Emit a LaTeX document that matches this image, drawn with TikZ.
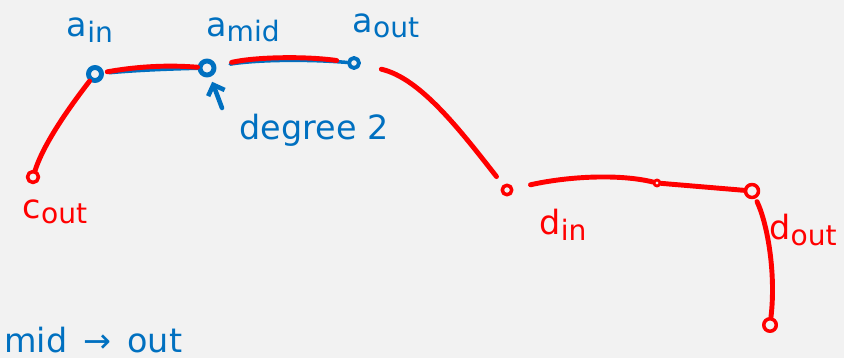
\documentclass[tikz,border=0pt]{standalone}
\usepackage{fontspec}
\setmainfont{DejaVu Sans}
\usetikzlibrary{positioning,arrows.meta}

\definecolor{penblue}{RGB}{0,112,192}
\definecolor{penred}{RGB}{255,0,0}
\definecolor{paper}{RGB}{242,242,242}

% lowered index next to a vertex letter
\newcommand{\idx}[1]{\raisebox{-0.3ex}{\fontsize{16}{16}\selectfont #1}}

\begin{document}
\begin{tikzpicture}[x=0.02cm, y=-0.02cm, line cap=round, line join=round,
    font=\fontsize{19}{21}\selectfont,
    vtx/.style={circle, draw, inner sep=0pt},
    bluevtx/.style={vtx, penblue, line width=2.8pt, minimum size=0.26cm},
    redvtx/.style={vtx, penred, line width=2pt, minimum size=0.22cm},
    redline/.style={penred, line width=2.8pt},
    blueline/.style={penblue, line width=2pt},
    bluetxt/.style={penblue},
    redtxt/.style={penred}]
  \useasboundingbox[fill=paper] (0,0) rectangle (844,358);

  % vertices
  \node[bluevtx] (ain) at (95,74) {};
  \node[bluevtx, minimum size=0.28cm] (amid) at (207,68) {};
  \node[bluevtx, line width=2.2pt, minimum size=0.2cm] (aout) at (354,63) {};
  \node[redvtx] (cout) at (33,177) {};
  \node[redvtx, minimum size=0.19cm] (din) at (507,190) {};
  \node[redvtx, line width=1.6pt, minimum size=0.12cm] (dhop) at (657,183) {};
  \node[redvtx, minimum size=0.26cm] (dout) at (752,191) {};
  \node[redvtx, minimum size=0.25cm] (dend) at (770,325) {};

  % labels
  \node[bluetxt] (ainlbl) at (90,30) {a\idx{in}};
  \node[bluetxt] (amidlbl) at (243,30) {a\idx{mid}};
  \node[bluetxt] (aoutlbl) at (386,26) {a\idx{out}};
  \node[redtxt] (coutlbl) at (55,212) {c\idx{out}};
  \node[redtxt] (dinlbl) at (563,225) {d\idx{in}};
  \node[redtxt] (doutlbl) at (803,230) {d\idx{out}};
  \node[bluetxt] (deg) at (314,130) {degree 2};
  \node[bluetxt, anchor=base west] (rule) at (-2,352) {mid\, →\, out};

  % blue path under the red one
  \draw[blueline, shorten <=3pt] (ain) .. controls (140,70) and (170,69) .. (amid);
  \draw[blueline, shorten <=8pt] (amid) .. controls (255,60) and (305,59) .. (aout);

  % red path
  \draw[redline] (ain) .. controls (75,100) and (45,140) .. (cout);
  \draw[redline, shorten <=2pt] (ain) .. controls (140,66) and (170,65) .. (amid);
  \draw[redline, shorten <=9pt, shorten >=6pt] (amid) .. controls (255,57) and (305,56) .. (aout);
  \draw[redline, shorten <=12pt, shorten >=6pt] (aout) .. controls (420,78) and (460,130) .. (din);
  \draw[redline, shorten <=10pt] (din) .. controls (570,176) and (620,174) .. (dhop);
  \draw[redline] (dhop) -- (dout);
  \draw[redline, shorten <=2pt] (dout) .. controls (768,225) and (776,275) .. (dend);

  % pointer to the middle vertex
  \coordinate (tail) at (222,108);
  \draw[penblue, line width=2.6pt, -{Straight Barb[length=5pt, width=10pt]}, shorten >=3pt] (tail) -- (amid);
\end{tikzpicture}
\end{document}
